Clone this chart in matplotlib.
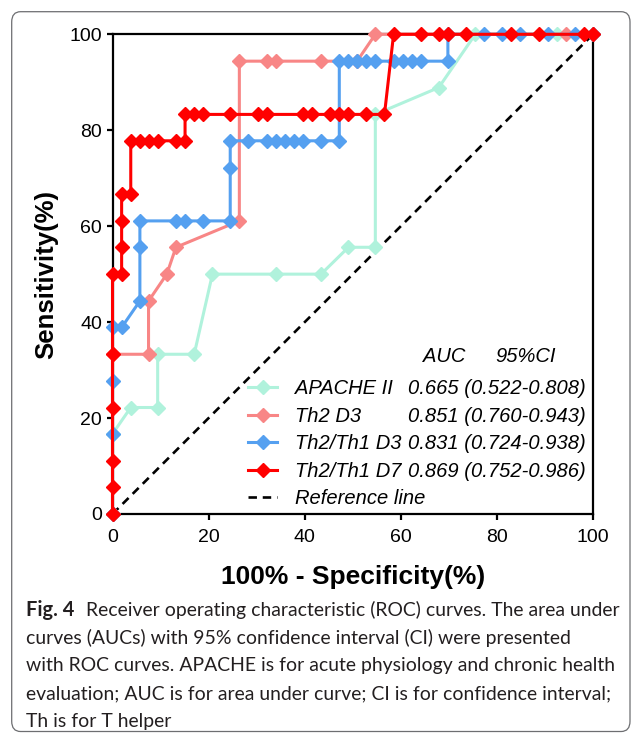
import numpy as np
import matplotlib.pyplot as plt
from matplotlib import font_manager
from matplotlib.patches import FancyBboxPatch

# ROC points (x = 100% - specificity, y = sensitivity)
apache_x = [0, 0, 3.8, 9.4, 9.4, 17.0, 20.8, 34.0, 43.4, 49.1, 54.7, 54.7, 67.9, 75.5, 92.5, 100]
apache_y = [0, 16.7, 22.2, 22.2, 33.3, 33.3, 50, 50, 50, 55.6, 55.6, 83.3, 88.9, 100, 100, 100]

th2d3_x = [0, 0, 7.5, 7.5, 11.3, 13.2, 26.4, 26.4, 32.1, 34.0, 43.4, 50.9, 54.7, 94.3, 100]
th2d3_y = [0, 33.3, 33.3, 44.4, 50, 55.6, 61.1, 94.4, 94.4, 94.4, 94.4, 94.4, 100, 100, 100]

r_d3_x = [0, 0, 0, 0, 1.9, 5.7, 5.7, 5.7, 13.2, 15.1, 18.9, 24.5, 24.5, 24.5, 28.3, 32.1, 34.0,
          35.8, 37.7, 39.6, 43.4, 47.2, 47.2, 49.1, 50.9, 52.8, 54.7, 58.5, 60.4, 62.3, 64.2,
          69.8, 69.8, 77.4, 81.1, 84.9, 90.6, 96.2, 100]
r_d3_y = [0, 16.7, 27.8, 38.9, 38.9, 44.4, 55.6, 61.1, 61.1, 61.1, 61.1, 61.1, 72.2, 77.8, 77.8,
          77.8, 77.8, 77.8, 77.8, 77.8, 77.8, 77.8, 94.4, 94.4, 94.4, 94.4, 94.4, 94.4, 94.4,
          94.4, 94.4, 94.4, 100, 100, 100, 100, 100, 100, 100]

r_d7_x = [0, 0, 0, 0, 0, 0, 1.9, 1.9, 1.9, 1.9, 3.8, 3.8, 5.7, 7.5, 9.4, 13.2, 15.1, 15.1, 17.0,
          18.9, 24.5, 30.2, 32.1, 39.6, 41.5, 45.3, 47.2, 49.1, 52.8, 56.6, 58.5, 64.2, 67.9,
          69.8, 73.6, 83.0, 88.7, 98.1, 100]
r_d7_y = [0, 5.6, 11.1, 22.2, 33.3, 50, 50, 55.6, 61.1, 66.7, 66.7, 77.8, 77.8, 77.8, 77.8, 77.8,
          77.8, 83.3, 83.3, 83.3, 83.3, 83.3, 83.3, 83.3, 83.3, 83.3, 83.3, 83.3, 83.3, 83.3,
          100, 100, 100, 100, 100, 100, 100, 100, 100]

names = ["APACHE II", "Th2 D3", "Th2/Th1 D3", "Th2/Th1 D7"]
colors = ["#b0f2dc", "#f88686", "#55a0f0", "#ff0000"]
auc_txt = ["0.665 (0.522-0.808)", "0.851 (0.760-0.943)",
           "0.831 (0.724-0.938)", "0.869 (0.752-0.986)"]

caption = ["Receiver operating characteristic (ROC) curves. The area under",
           "curves (AUCs) with 95% confidence interval (CI) were presented",
           "with ROC curves. APACHE is for acute physiology and chronic health",
           "evaluation; AUC is for area under curve; CI is for confidence interval;",
           "Th is for T helper"]

W, H = 632, 734
plt.rcParams['font.family'] = ['Liberation Sans', 'DejaVu Sans']
avail = {f.name for f in font_manager.fontManager.ttflist}
capfont = 'Liberation Sans Narrow' if 'Liberation Sans Narrow' in avail else 'Lato'

fig = plt.figure(figsize=(W / 100, H / 100), dpi=100)
ax = fig.add_axes([112.5 / W, 1 - 514 / H, (593 - 112.5) / W, (514 - 34.3) / H])

series = [(apache_x, apache_y), (th2d3_x, th2d3_y), (r_d3_x, r_d3_y), (r_d7_x, r_d7_y)]
handles = []
for i, (xs, ys) in enumerate(series):
    h, = ax.plot(xs, ys, color=colors[i], lw=2.2, marker='D', ms=7, mec=colors[i],
                 clip_on=False, zorder=3 + i)
    handles.append(h)
ref, = ax.plot([0, 100], [0, 100], color='black', lw=1.9, ls=(0, (3.2, 2.2)), zorder=2)
handles.append(ref)

ax.set_xlim(0, 100)
ax.set_ylim(0, 100)
ax.set_xticks(np.arange(0, 101, 20))
ax.set_yticks(np.arange(0, 101, 20))
for s in ax.spines.values():
    s.set_linewidth(1.6)
ax.tick_params(direction='out', length=4.5, width=1.6, labelsize=14, pad=3)
ax.tick_params(axis='x', pad=6)

fig.text(353 / W, 1 - 577 / H, "100% - Specificity(%)", fontsize=19, fontweight='bold',
         ha='center', va='center')
fig.text(46 / W, 1 - 274 / H, "Sensitivity(%)", fontsize=18.5, fontweight='bold',
         ha='center', va='center', rotation=90)

leg = ax.legend(handles, names + ["Reference line"], loc='upper left',
                bbox_to_anchor=(248 / W, 1 - 379.5 / H), bbox_transform=fig.transFigure,
                frameon=False, borderpad=0, borderaxespad=0, handlelength=1.45,
                handletextpad=0.9, labelspacing=0.42,
                prop={'style': 'italic', 'size': 14.5})

fig.text(423 / W, 1 - 357 / H, "AUC", fontsize=14.5, style='italic', va='center')
fig.text(495 / W, 1 - 357 / H, "95%CI", fontsize=14.5, style='italic', va='center')

fig.canvas.draw()
for t, s in zip(leg.get_texts()[:4], auc_txt):
    bb = t.get_window_extent()
    fig.text(408 / W, (bb.y0 + bb.y1) / 2 / H, s, fontsize=14.5, style='italic', va='center')

# caption: size the font so the first line spans the same width as in the original
rend = fig.canvas.get_renderer()
probe = fig.text(0, 0, caption[0], family=capfont, fontsize=15)
capsize = 15 * (620 - 86) / probe.get_window_extent(rend).width
probe.remove()

y0 = 610
fig.text(26 / W, 1 - y0 / H, "Fig. 4", family=capfont, fontsize=capsize + 0.5,
         fontweight='bold', va='center', color='#231f20')
for k, line in enumerate(caption):
    x0 = 86 if k == 0 else 26
    fig.text(x0 / W, 1 - (y0 + 28 * k) / H, line, family=capfont, fontsize=capsize,
             va='center', color='#231f20')

frame = FancyBboxPatch((11.7 / W, 1 - 731.5 / H), (630 - 11.7) / W, (731.5 - 11.7) / H,
                       boxstyle="round,pad=0,rounding_size=0.014", transform=fig.transFigure,
                       fill=False, ec='#6d6e71', lw=0.9)
fig.patches.append(frame)

fig.savefig("out.png", dpi=100)
